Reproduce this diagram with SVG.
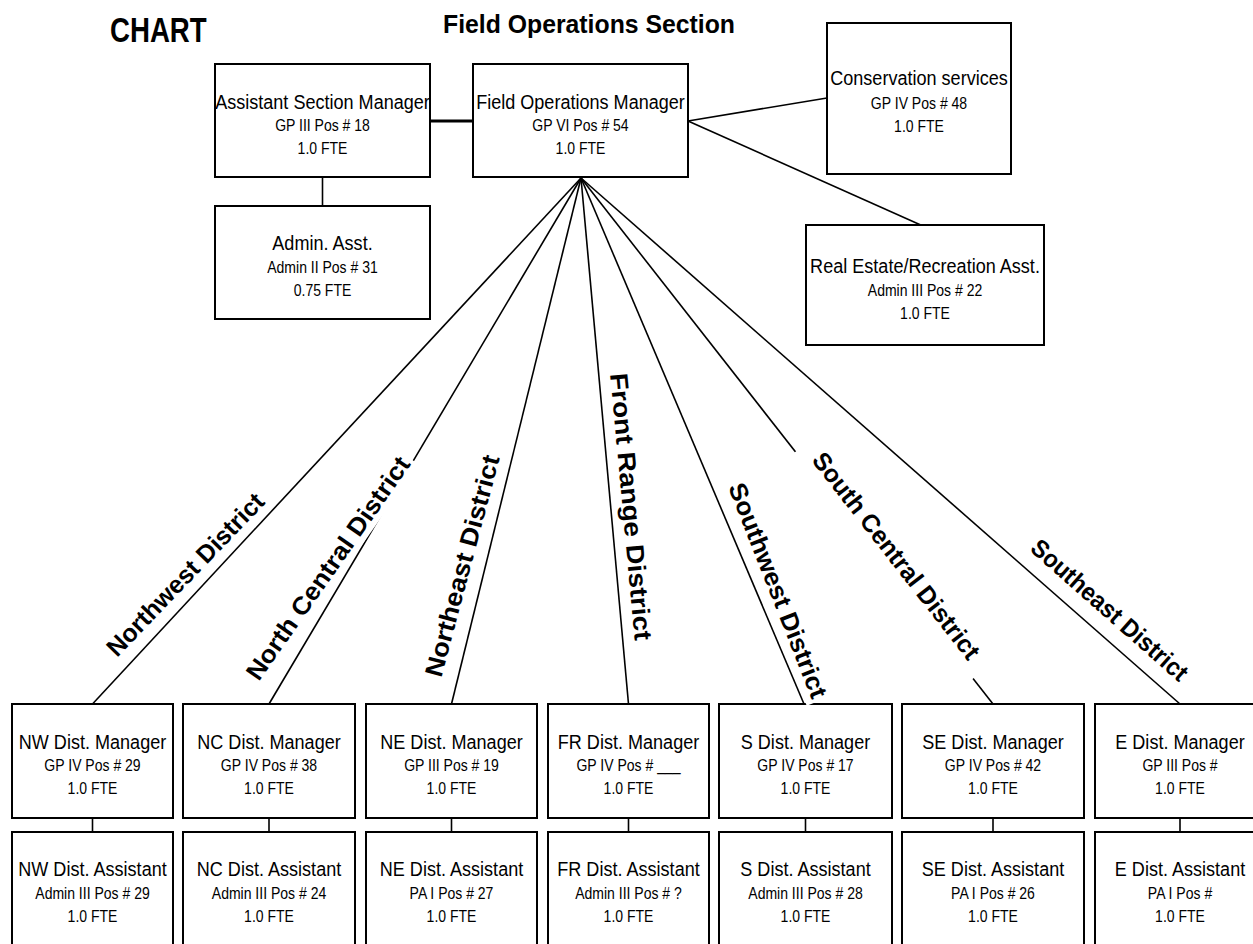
<svg xmlns="http://www.w3.org/2000/svg" width="1253" height="944" viewBox="0 0 1253 944">
  <style>
    text { font-family: "Liberation Sans", Arial, sans-serif; fill: #000; }
    .box { fill: #fff; stroke: #000; stroke-width: 2; }
    .ln { stroke: #000; stroke-width: 1.6; fill: none; }
    .thick { stroke: #000; stroke-width: 3; fill: none; }
    .t { font-size: 21px; text-anchor: middle; }
    .s { font-size: 16.3px; text-anchor: middle; }
    .lbl { font-size: 25px; font-weight: bold; text-anchor: middle; }
    .bg { fill: #fff; }
    .head { font-weight: bold; }
  </style>

  <!-- headings -->
  <g id="headings">
    <text class="head" font-size="35" transform="translate(110 41.7) scale(.79 1)">CHART</text>
    <text class="head" font-size="25.5" x="443" y="33" textLength="292" lengthAdjust="spacingAndGlyphs">Field Operations Section</text>
  </g>

  <!-- connectors -->
  <g id="connectors">
    <line class="thick" x1="430" y1="121" x2="473" y2="121"/>
    <line class="ln" x1="322.5" y1="177" x2="322.5" y2="206"/>
    <line class="ln" x1="688" y1="121" x2="827" y2="98"/>
    <line class="ln" x1="688" y1="121" x2="923" y2="226"/>
    <!-- fan from Field Operations Manager to the district managers -->
    <line class="ln" x1="581" y1="178" x2="92.5" y2="704"/>
    <line class="ln" x1="581" y1="178" x2="269" y2="704"/>
    <line class="ln" x1="581" y1="178" x2="451.5" y2="704"/>
    <line class="ln" x1="581" y1="178" x2="628.5" y2="704"/>
    <line class="ln" x1="581" y1="178" x2="804" y2="704"/>
    <line class="ln" x1="581" y1="178" x2="993" y2="704"/>
    <line class="ln" x1="581" y1="178" x2="1180" y2="704"/>
    <!-- manager to assistant -->
    <line class="ln" x1="92.5" y1="818" x2="92.5" y2="832"/>
    <line class="ln" x1="269" y1="818" x2="269" y2="832"/>
    <line class="ln" x1="451.5" y1="818" x2="451.5" y2="832"/>
    <line class="ln" x1="628.5" y1="818" x2="628.5" y2="832"/>
    <line class="ln" x1="805.5" y1="818" x2="805.5" y2="832"/>
    <line class="ln" x1="993" y1="818" x2="993" y2="832"/>
    <line class="ln" x1="1180" y1="818" x2="1180" y2="832"/>
  </g>

  <!-- section level -->
  <g id="asst-section-manager">
    <rect class="box" x="215" y="64" width="215" height="113"/>
    <text class="t" transform="translate(322.5 108.5) scale(.86 1)">Assistant Section Manager</text>
    <text class="s" transform="translate(322.5 131) scale(.86 1)">GP III Pos # 18</text>
    <text class="s" transform="translate(322.5 154) scale(.86 1)">1.0 FTE</text>
  </g>
  <g id="field-ops-manager">
    <rect class="box" x="473" y="64" width="215" height="113"/>
    <text class="t" transform="translate(580.5 108.5) scale(.86 1)">Field Operations Manager</text>
    <text class="s" transform="translate(580.5 131) scale(.86 1)">GP VI Pos # 54</text>
    <text class="s" transform="translate(580.5 154) scale(.86 1)">1.0 FTE</text>
  </g>
  <g id="admin-asst">
    <rect class="box" x="215" y="206" width="215" height="113"/>
    <text class="t" transform="translate(322.5 250) scale(.86 1)">Admin. Asst.</text>
    <text class="s" transform="translate(322.5 273) scale(.86 1)">Admin II Pos # 31</text>
    <text class="s" transform="translate(322.5 296) scale(.86 1)">0.75 FTE</text>
  </g>
  <g id="conservation">
    <rect class="box" x="827" y="23" width="184" height="151"/>
    <text class="t" transform="translate(919 85) scale(.86 1)">Conservation services</text>
    <text class="s" transform="translate(919 108.5) scale(.86 1)">GP IV Pos # 48</text>
    <text class="s" transform="translate(919 131.5) scale(.86 1)">1.0 FTE</text>
  </g>
  <g id="real-estate">
    <rect class="box" x="806" y="225" width="238" height="120"/>
    <text class="t" transform="translate(925 273) scale(.86 1)">Real Estate/Recreation Asst.</text>
    <text class="s" transform="translate(925 295.5) scale(.86 1)">Admin III Pos # 22</text>
    <text class="s" transform="translate(925 318.5) scale(.86 1)">1.0 FTE</text>
  </g>

  <!-- district managers and assistants -->
  <g id="nw-district">
    <rect class="box" x="12" y="704" width="161" height="114"/>
    <text class="t" transform="translate(92.5 748.5) scale(.86 1)">NW Dist. Manager</text>
    <text class="s" transform="translate(92.5 771) scale(.86 1)">GP IV Pos # 29</text>
    <text class="s" transform="translate(92.5 794) scale(.86 1)">1.0 FTE</text>
    <rect class="box" x="12" y="832" width="161" height="130"/>
    <text class="t" transform="translate(92.5 876) scale(.86 1)">NW Dist. Assistant</text>
    <text class="s" transform="translate(92.5 899) scale(.86 1)">Admin III Pos # 29</text>
    <text class="s" transform="translate(92.5 922) scale(.86 1)">1.0 FTE</text>
  </g>
  <g id="nc-district">
    <rect class="box" x="183" y="704" width="172" height="114"/>
    <text class="t" transform="translate(269 748.5) scale(.86 1)">NC Dist. Manager</text>
    <text class="s" transform="translate(269 771) scale(.86 1)">GP IV Pos # 38</text>
    <text class="s" transform="translate(269 794) scale(.86 1)">1.0 FTE</text>
    <rect class="box" x="183" y="832" width="172" height="130"/>
    <text class="t" transform="translate(269 876) scale(.86 1)">NC Dist. Assistant</text>
    <text class="s" transform="translate(269 899) scale(.86 1)">Admin III Pos # 24</text>
    <text class="s" transform="translate(269 922) scale(.86 1)">1.0 FTE</text>
  </g>
  <g id="ne-district">
    <rect class="box" x="366" y="704" width="171" height="114"/>
    <text class="t" transform="translate(451.5 748.5) scale(.86 1)">NE Dist. Manager</text>
    <text class="s" transform="translate(451.5 771) scale(.86 1)">GP III Pos # 19</text>
    <text class="s" transform="translate(451.5 794) scale(.86 1)">1.0 FTE</text>
    <rect class="box" x="366" y="832" width="171" height="130"/>
    <text class="t" transform="translate(451.5 876) scale(.86 1)">NE Dist. Assistant</text>
    <text class="s" transform="translate(451.5 899) scale(.86 1)">PA I Pos # 27</text>
    <text class="s" transform="translate(451.5 922) scale(.86 1)">1.0 FTE</text>
  </g>
  <g id="fr-district">
    <rect class="box" x="548" y="704" width="161" height="114"/>
    <text class="t" transform="translate(628.5 748.5) scale(.86 1)">FR Dist. Manager</text>
    <text class="s" transform="translate(628.5 771) scale(.86 1)">GP IV Pos # ___</text>
    <text class="s" transform="translate(628.5 794) scale(.86 1)">1.0 FTE</text>
    <rect class="box" x="548" y="832" width="161" height="130"/>
    <text class="t" transform="translate(628.5 876) scale(.86 1)">FR Dist. Assistant</text>
    <text class="s" transform="translate(628.5 899) scale(.86 1)">Admin III Pos # ?</text>
    <text class="s" transform="translate(628.5 922) scale(.86 1)">1.0 FTE</text>
  </g>
  <g id="s-district">
    <rect class="box" x="719" y="704" width="173" height="114"/>
    <text class="t" transform="translate(805.5 748.5) scale(.86 1)">S Dist. Manager</text>
    <text class="s" transform="translate(805.5 771) scale(.86 1)">GP IV Pos # 17</text>
    <text class="s" transform="translate(805.5 794) scale(.86 1)">1.0 FTE</text>
    <rect class="box" x="719" y="832" width="173" height="130"/>
    <text class="t" transform="translate(805.5 876) scale(.86 1)">S Dist. Assistant</text>
    <text class="s" transform="translate(805.5 899) scale(.86 1)">Admin III Pos # 28</text>
    <text class="s" transform="translate(805.5 922) scale(.86 1)">1.0 FTE</text>
  </g>
  <g id="se-district">
    <rect class="box" x="902" y="704" width="182" height="114"/>
    <text class="t" transform="translate(993 748.5) scale(.86 1)">SE Dist. Manager</text>
    <text class="s" transform="translate(993 771) scale(.86 1)">GP IV Pos # 42</text>
    <text class="s" transform="translate(993 794) scale(.86 1)">1.0 FTE</text>
    <rect class="box" x="902" y="832" width="182" height="130"/>
    <text class="t" transform="translate(993 876) scale(.86 1)">SE Dist. Assistant</text>
    <text class="s" transform="translate(993 899) scale(.86 1)">PA I Pos # 26</text>
    <text class="s" transform="translate(993 922) scale(.86 1)">1.0 FTE</text>
  </g>
  <g id="e-district">
    <rect class="box" x="1095" y="704" width="170" height="114"/>
    <text class="t" transform="translate(1180 748.5) scale(.86 1)">E Dist. Manager</text>
    <text class="s" transform="translate(1180 771) scale(.86 1)">GP III Pos #</text>
    <text class="s" transform="translate(1180 794) scale(.86 1)">1.0 FTE</text>
    <rect class="box" x="1095" y="832" width="170" height="130"/>
    <text class="t" transform="translate(1180 876) scale(.86 1)">E Dist. Assistant</text>
    <text class="s" transform="translate(1180 899) scale(.86 1)">PA I Pos #</text>
    <text class="s" transform="translate(1180 922) scale(.86 1)">1.0 FTE</text>
  </g>

  <!-- district names along the fan lines (white backing interrupts lines beneath) -->
  <g id="district-labels">
    <g transform="translate(191.5 580.5) rotate(-46.1)">
      <rect class="bg" x="-110" y="-19" width="220" height="24"/>
      <text class="lbl" textLength="215" lengthAdjust="spacingAndGlyphs">Northwest District</text>
    </g>
    <g transform="translate(335 573) rotate(-55)">
      <rect class="bg" x="-137" y="-19" width="274" height="25"/>
      <text class="lbl" textLength="266" lengthAdjust="spacingAndGlyphs">North Central District</text>
    </g>
    <g transform="translate(470.5 568) rotate(-75.1)">
      <rect class="bg" x="-118" y="-19" width="236" height="24"/>
      <text class="lbl" textLength="228" lengthAdjust="spacingAndGlyphs">Northeast District</text>
    </g>
    <g transform="translate(622.5 507.5) rotate(84.7)">
      <rect class="bg" x="-138" y="-19" width="276" height="24"/>
      <text class="lbl" textLength="268" lengthAdjust="spacingAndGlyphs">Front Range District</text>
    </g>
    <g transform="translate(770 593.5) rotate(68.5)">
      <rect class="bg" x="-118" y="-19" width="236" height="26"/>
      <text class="lbl" textLength="229" lengthAdjust="spacingAndGlyphs">Southwest District</text>
    </g>
    <g transform="translate(889.5 561) rotate(52)">
      <rect class="bg" x="-144" y="-19" width="288" height="29"/>
      <text class="lbl" textLength="255" lengthAdjust="spacingAndGlyphs">South Central District</text>
    </g>
    <g transform="translate(1104 616.5) rotate(41.4)">
      <rect class="bg" x="-104" y="-19" width="208" height="24"/>
      <text class="lbl" textLength="200" lengthAdjust="spacingAndGlyphs">Southeast District</text>
    </g>
  </g>
</svg>
